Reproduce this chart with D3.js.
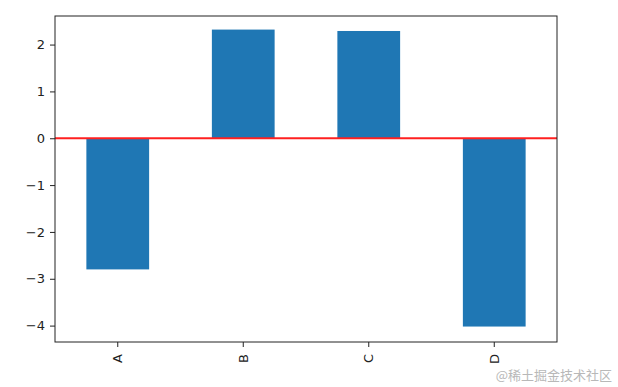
<!DOCTYPE html>
<html>
<head>
<meta charset="utf-8">
<script src="https://cdn.jsdelivr.net/npm/d3@7"></script>
<style>
  body { margin: 0; background: #fff; }
  svg { display: block; }
</style>
</head>
<body>
<div id="chart"></div>
<script>
const categories = ["A", "B", "C", "D"];
const values = [-2.8, 2.32, 2.29, -4.02];
const yTicks = [-4, -3, -2, -1, 0, 1, 2];
const hlineValue = 0;

const svgWidth = 618;
const svgHeight = 387;
const margin = { top: 16, right: 61, bottom: 45, left: 55 };
const width = svgWidth - margin.left - margin.right;
const height = svgHeight - margin.top - margin.bottom;

const svg = d3.select("#chart")
  .append("svg")
  .attr("width", svgWidth)
  .attr("height", svgHeight);

const g = svg.append("g")
  .attr("transform", `translate(${margin.left},${margin.top})`);

const x = d3.scaleBand()
  .domain(categories)
  .range([0, width])
  .paddingInner(0.5)
  .paddingOuter(0.25);

const y = d3.scaleLinear()
  .domain([-4.35, 2.61])
  .range([height, 0]);

// bars
g.selectAll("rect.bar")
  .data(categories.map((c, i) => ({ cat: c, val: values[i] })))
  .enter()
  .append("rect")
  .attr("class", "bar")
  .attr("x", d => x(d.cat))
  .attr("width", x.bandwidth())
  .attr("y", d => y(Math.max(0, d.val)))
  .attr("height", d => Math.abs(y(d.val) - y(0)))
  .attr("fill", "#1f77b4");

// red horizontal line at 0
g.append("line")
  .attr("x1", 0)
  .attr("x2", width)
  .attr("y1", y(hlineValue))
  .attr("y2", y(hlineValue))
  .attr("stroke", "#ff2020")
  .attr("stroke-width", 2);

const fmt = d => d < 0 ? "\u2212" + Math.abs(d) : String(d);

const yAxis = g.append("g")
  .call(d3.axisLeft(y).tickValues(yTicks).tickFormat(fmt).tickSize(5).tickPadding(5));

const xAxis = g.append("g")
  .attr("transform", `translate(0,${height})`)
  .call(d3.axisBottom(x).tickSize(5).tickPadding(5));

xAxis.selectAll("text")
  .attr("transform", "rotate(-90)")
  .attr("text-anchor", "end")
  .attr("x", -12)
  .attr("y", 0)
  .attr("dy", "0.35em");

[yAxis, xAxis].forEach(ax => {
  ax.select(".domain").remove();
  ax.selectAll("line").attr("stroke", "#222").attr("stroke-width", 1);
  ax.selectAll("text")
    .attr("fill", "#222")
    .style("font-family", "DejaVu Sans")
    .style("font-size", "13px");
});

// frame
g.append("rect")
  .attr("x", 0)
  .attr("y", 0)
  .attr("width", width)
  .attr("height", height)
  .attr("fill", "none")
  .attr("stroke", "#222")
  .attr("stroke-width", 1);

// watermark
svg.append("text")
  .attr("x", 612)
  .attr("y", 380)
  .attr("text-anchor", "end")
  .attr("fill", "#b8b8b8")
  .style("font-family", "Noto Sans CJK SC")
  .style("font-size", "13px")
  .text("@稀土掘金技术社区");
</script>
</body>
</html>
